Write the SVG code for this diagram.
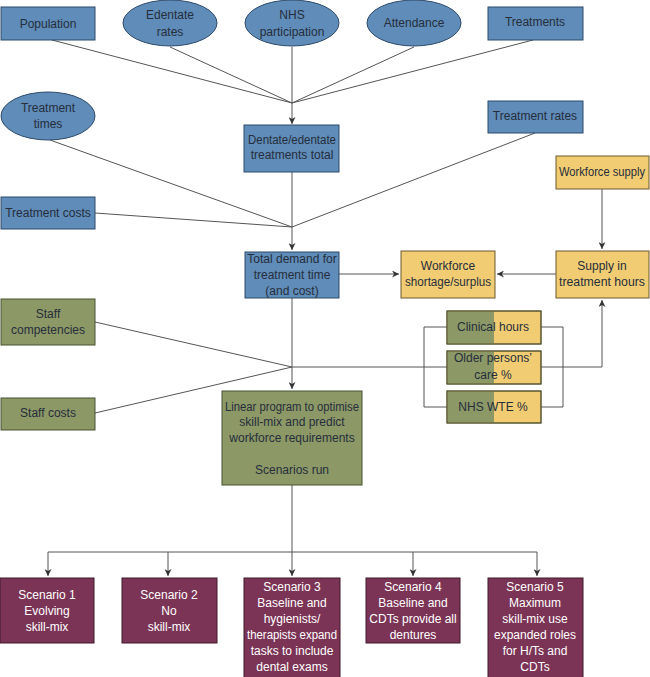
<svg xmlns="http://www.w3.org/2000/svg" width="650" height="677" viewBox="0 0 650 677">
<defs>
<marker id="ah" viewBox="0 0 10 10" refX="10" refY="5" markerWidth="7" markerHeight="7" orient="auto" markerUnits="userSpaceOnUse"><path d="M0,0 L10,5 L0,10 L3,5 z" fill="#333"/></marker>
<style>
text{font-family:"Liberation Sans",Arial,sans-serif;font-size:12px;fill:#262e3c;text-anchor:middle}
.b{fill:#5f8cb8;stroke:#2d4a6a;stroke-width:1}
.y{fill:#f2cc72;stroke:#6b5a2e;stroke-width:1}
.g{fill:#8c9866;stroke:#4a5233;stroke-width:1}
.p{fill:#7b3455;stroke:#3f1a2b;stroke-width:1}
.w{fill:#ffffff}
.c line,.c path,.c polyline{stroke:#555;stroke-width:1;fill:none}
.a{marker-end:url(#ah)}
</style>
</defs>
<rect width="650" height="677" fill="#fff"/>
<g class="c" id="connectors">
<line x1="52" y1="40" x2="292" y2="103"/>
<line x1="170" y1="47" x2="292" y2="103"/>
<line x1="292" y1="47" x2="292" y2="103"/>
<line x1="414" y1="47" x2="292" y2="103"/>
<line x1="533" y1="40" x2="292" y2="103"/>
<line class="a" x1="292" y1="103" x2="292" y2="124"/>
<line x1="50" y1="140" x2="292" y2="227"/>
<line x1="95" y1="213" x2="292" y2="227"/>
<line x1="535" y1="133" x2="292" y2="227"/>
<line x1="292" y1="172" x2="292" y2="227"/>
<line class="a" x1="292" y1="227" x2="292" y2="250"/>
<line class="a" x1="339" y1="274" x2="399" y2="274"/>
<line class="a" x1="556" y1="274" x2="497" y2="274"/>
<line class="a" x1="602" y1="189" x2="602" y2="249"/>
<line x1="95" y1="322" x2="292" y2="367"/>
<line x1="95" y1="413" x2="292" y2="367"/>
<line x1="292" y1="298" x2="292" y2="367"/>
<line class="a" x1="292" y1="367" x2="292" y2="389"/>
<polyline class="a" points="292,367 602,367 602,300"/>
<polyline points="447,327 424,327 424,407 447,407"/>
<polyline points="541,327 563,327 563,407 541,407"/>
<line x1="292" y1="485" x2="292" y2="552"/>
<line x1="48" y1="552" x2="537" y2="552"/>
<line class="a" x1="48" y1="552" x2="48" y2="576"/>
<line class="a" x1="168" y1="552" x2="168" y2="576"/>
<line class="a" x1="292" y1="552" x2="292" y2="576"/>
<line class="a" x1="413" y1="552" x2="413" y2="576"/>
<line class="a" x1="537" y1="552" x2="537" y2="576"/>
</g>
<g id="population"><rect class="b" x="1" y="7" width="94" height="33"/><text x="48" y="28">Population</text></g>
<g id="edentate"><ellipse class="b" cx="170" cy="23" rx="47" ry="23"/><text x="170" y="19">Edentate</text><text x="170" y="36">rates</text></g>
<g id="nhs"><ellipse class="b" cx="292" cy="23" rx="47" ry="23"/><text x="292" y="19">NHS</text><text x="292" y="36">participation</text></g>
<g id="attendance"><ellipse class="b" cx="414" cy="23" rx="47" ry="23"/><text x="414" y="27">Attendance</text></g>
<g id="treatments"><rect class="b" x="488" y="7" width="95" height="33"/><text x="535" y="26">Treatments</text></g>
<g id="treatment-times"><ellipse class="b" cx="48" cy="116" rx="47" ry="24"/><text x="48" y="112">Treatment</text><text x="48" y="128">times</text></g>
<g id="dentate"><rect class="b" x="244" y="125" width="95" height="47"/><text x="292" y="144" textLength="88" lengthAdjust="spacingAndGlyphs">Dentate/edentate</text><text x="292" y="159">treatments total</text></g>
<g id="treatment-rates"><rect class="b" x="488" y="101" width="95" height="32"/><text x="535" y="120">Treatment rates</text></g>
<g id="workforce-supply"><rect class="y" x="556" y="156" width="93" height="33"/><text x="602" y="176" textLength="86" lengthAdjust="spacingAndGlyphs">Workforce supply</text></g>
<g id="treatment-costs"><rect class="b" x="1" y="197" width="94" height="32"/><text x="48" y="217">Treatment costs</text></g>
<g id="total-demand"><rect class="b" x="245" y="252" width="94" height="46"/><text x="292" y="263">Total demand for</text><text x="292" y="279">treatment time</text><text x="292" y="295">(and cost)</text></g>
<g id="shortage"><rect class="y" x="401" y="251" width="94" height="47"/><text x="448" y="270">Workforce</text><text x="448" y="286" textLength="86" lengthAdjust="spacingAndGlyphs">shortage/surplus</text></g>
<g id="supply-hours"><rect class="y" x="556" y="251" width="93" height="47"/><text x="602" y="270">Supply in</text><text x="602" y="286" textLength="86" lengthAdjust="spacingAndGlyphs">treatment hours</text></g>
<g id="staff-competencies"><rect class="g" x="1" y="299" width="94" height="46"/><text x="48" y="318">Staff</text><text x="48" y="334">competencies</text></g>
<g id="staff-costs"><rect class="g" x="1" y="398" width="94" height="32"/><text x="48" y="417">Staff costs</text></g>
<g id="clinical-hours"><rect class="y" x="447" y="311" width="94" height="33"/><rect x="447.5" y="311.5" width="46.5" height="32" fill="#8c9866"/><rect x="447" y="311" width="94" height="33" fill="none" stroke="#4a5233"/><text x="493" y="331">Clinical hours</text></g>
<g id="older-persons"><rect class="y" x="447" y="351" width="94" height="33"/><rect x="447.5" y="351.5" width="46.5" height="32" fill="#8c9866"/><rect x="447" y="351" width="94" height="33" fill="none" stroke="#4a5233"/><text x="493" y="362">Older persons’</text><text x="493" y="379">care %</text></g>
<g id="nhs-wte"><rect class="y" x="447" y="391" width="94" height="32"/><rect x="447.5" y="391.5" width="46.5" height="31" fill="#8c9866"/><rect x="447" y="391" width="94" height="32" fill="none" stroke="#4a5233"/><text x="493" y="411">NHS WTE %</text></g>
<g id="linear-program"><rect class="g" x="222" y="391" width="140" height="94"/><text x="292" y="411" textLength="134" lengthAdjust="spacingAndGlyphs">Linear program to optimise</text><text x="292" y="426">skill-mix and predict</text><text x="292" y="442">workforce requirements</text><text x="292" y="474">Scenarios run</text></g>
<g id="scenario1"><rect class="p" x="0" y="578" width="94" height="65"/><text class="w" x="47" y="599">Scenario 1</text><text class="w" x="47" y="615">Evolving</text><text class="w" x="47" y="631">skill-mix</text></g>
<g id="scenario2"><rect class="p" x="122" y="578" width="95" height="65"/><text class="w" x="169" y="599">Scenario 2</text><text class="w" x="169" y="615">No</text><text class="w" x="169" y="631">skill-mix</text></g>
<g id="scenario3"><rect class="p" x="244" y="578" width="96" height="100"/><text class="w" x="292" y="591">Scenario 3</text><text class="w" x="292" y="607">Baseline and</text><text class="w" x="292" y="623">hygienists/</text><text class="w" x="292" y="639" textLength="90" lengthAdjust="spacingAndGlyphs">therapists expand</text><text class="w" x="292" y="655">tasks to include</text><text class="w" x="292" y="671">dental exams</text></g>
<g id="scenario4"><rect class="p" x="366" y="578" width="94" height="65"/><text class="w" x="413" y="591">Scenario 4</text><text class="w" x="413" y="607">Baseline and</text><text class="w" x="413" y="623">CDTs provide all</text><text class="w" x="413" y="639">dentures</text></g>
<g id="scenario5"><rect class="p" x="488" y="578" width="95" height="100"/><text class="w" x="535" y="591">Scenario 5</text><text class="w" x="535" y="607">Maximum</text><text class="w" x="535" y="623">skill-mix use</text><text class="w" x="535" y="639">expanded roles</text><text class="w" x="535" y="655">for H/Ts and</text><text class="w" x="535" y="671">CDTs</text></g>
</svg>
